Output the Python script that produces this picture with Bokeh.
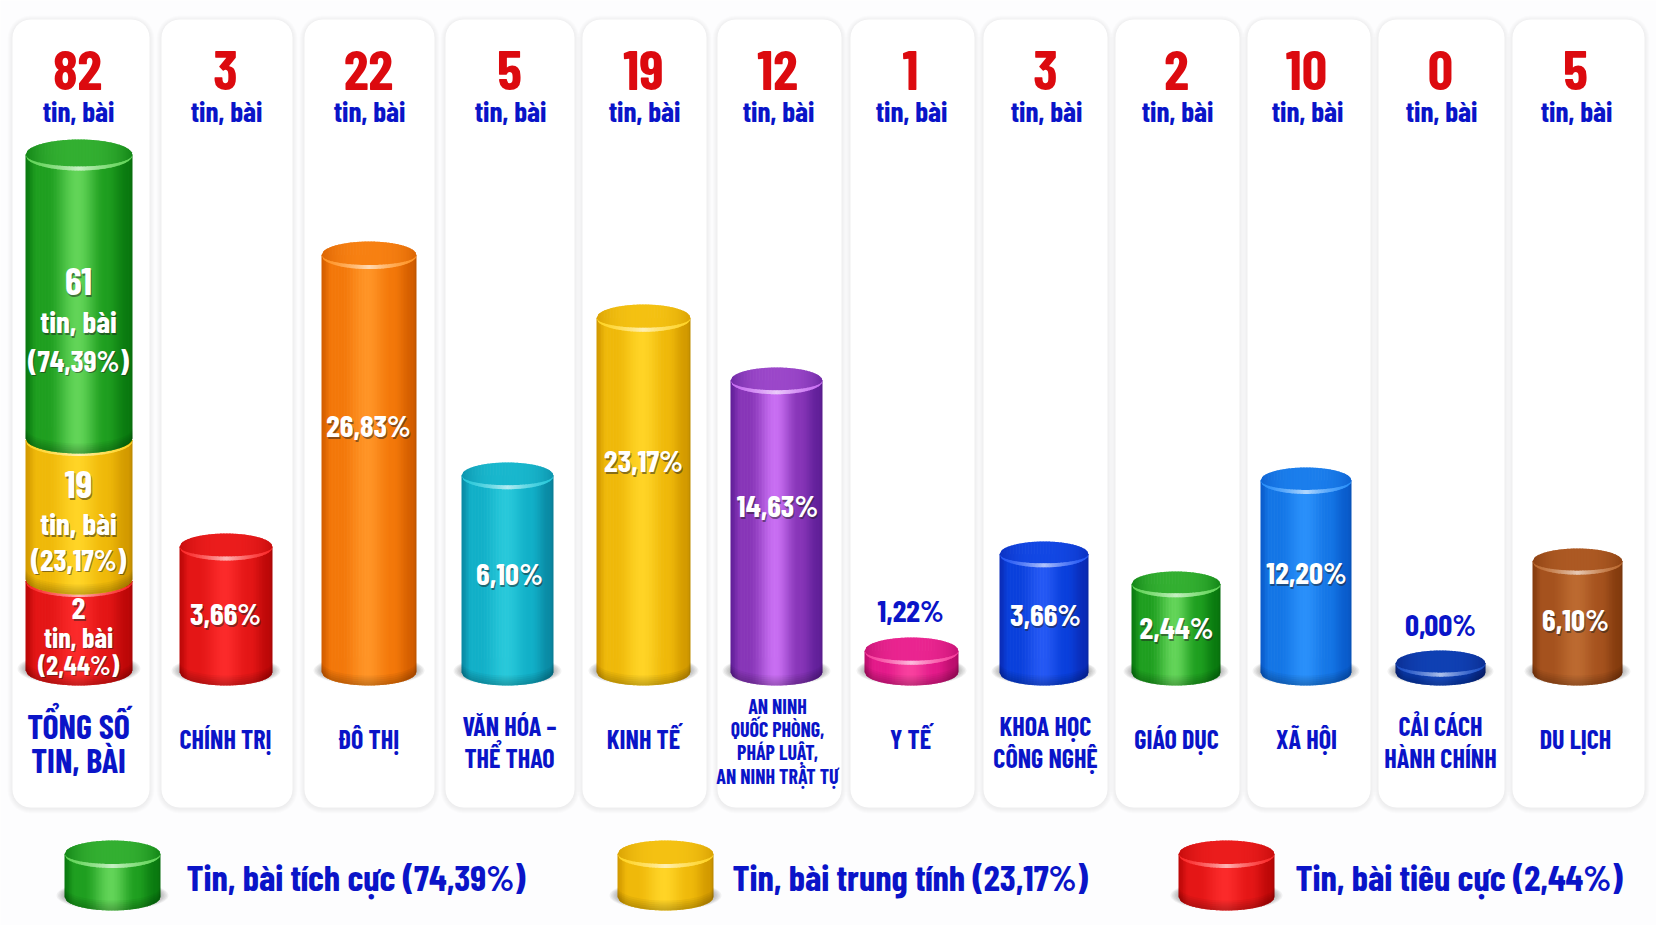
import numpy as np
from bokeh.plotting import figure
from bokeh.models import Range1d
from bokeh.core.properties import value
from bokeh.embed import file_html
from bokeh.resources import INLINE

# ---------- values ----------
categories = [["TỔNG SỐ", "TIN, BÀI"], ["CHÍNH TRỊ"], ["ĐÔ THỊ"], ["VĂN HÓA –", "THỂ THAO"], ["KINH TẾ"],
              ["AN NINH", "QUỐC PHÒNG,", "PHÁP LUẬT,", "AN NINH TRẬT TỰ"], ["Y TẾ"], ["KHOA HỌC", "CÔNG NGHỆ"],
              ["GIÁO DỤC"], ["XÃ HỘI"], ["CẢI CÁCH", "HÀNH CHÍNH"], ["DU LỊCH"]]
counts = ["82", "3", "22", "5", "19", "12", "1", "3", "2", "10", "0", "5"]
percents = [None, "3,66%", "26,83%", "6,10%", "23,17%", "14,63%", "1,22%", "3,66%", "2,44%", "12,20%", "0,00%", "6,10%"]
unit = "tin, bài"
# drawn height of every cylinder (hidden y scale)
drawn_heights = [546, 152, 444, 223, 381, 318, 48, 144, 114, 218, 35, 137]
# first column, stacked from the bottom: negative, neutral, positive
stack_heights = [91, 141, 314]
stack_lines = [["2", "tin, bài", "(2,44%)"], ["19", "tin, bài", "(23,17%)"], ["61", "tin, bài", "(74,39%)"]]
legend_labels = ["Tin, bài tích cực (74,39%)", "Tin, bài trung tính (23,17%)", "Tin, bài tiêu cực (2,44%)"]

# ---------- layout (page pixels) ----------
card_x = [(12, 149), (161, 292), (304, 434), (445, 574), (582, 706), (717, 841), (850, 974), (983, 1107),
          (1115, 1239), (1247, 1370), (1378, 1504), (1512, 1644)]
card_top, card_bottom = 19, 807
bar_x = [(25, 132), (179, 272), (321, 416), (461, 553), (596, 690), (730, 822), (864, 958), (999, 1088),
         (1131, 1220), (1260, 1351), (1395, 1485), (1532, 1622)]
text_cx = [78, 225, 368, 509, 643, 777, 910, 1045, 1176, 1306, 1440, 1575]
label_y = [None, 612, 424, 572, 459, 504, 609, 613, 626, 571, 623, 618]
BASE = 685
PAL = {
    "green": ("#0a7a10", "#1f9f20", "#62d458"), "red": ("#bd0808", "#e41616", "#fb2a2a"),
    "gold": ("#d39a00", "#efb90a", "#ffd426"), "orange": ("#d45e00", "#f3780a", "#ff9426"),
    "cyan": ("#0a8aa4", "#12b0c8", "#28c8da"), "purple": ("#62209a", "#8836b8", "#c86ef2"),
    "pink": ("#bc0f6e", "#e41a8a", "#f8409e"), "blue": ("#0a2cb8", "#0a40dc", "#2458f4"),
    "azure": ("#0a5ccc", "#1476e6", "#2a90fa"), "navy": ("#0a2888", "#0a3aac", "#1a4ec4"),
    "brown": ("#853c0e", "#a5521e", "#bc6a30"),
}
bar_pal = [None, "red", "orange", "cyan", "gold", "purple", "pink", "blue", "green", "azure", "navy", "brown"]


def hex2rgb(c):
    return np.array([int(c[i:i + 2], 16) for i in (1, 3, 5)], float)


def mix(a, b, t):
    c = hex2rgb(a) * (1 - t) + hex2rgb(b) * t
    return "#%02x%02x%02x" % tuple(int(round(v)) for v in c)


def shade(pal, u):
    d, m, l = pal
    xs = [-1, -0.78, -0.6, -0.03, 0.5, 0.92, 1]
    cs = [d, m, m, l, m, d, mix(d, "#000000", 0.1)]
    for i in range(6):
        if u <= xs[i + 1]:
            t = (u - xs[i]) / (xs[i + 1] - xs[i])
            t = t * t * (3 - 2 * t)
            return mix(cs[i], cs[i + 1], t)
    return cs[-1]


p = figure(width=1656, height=925, x_range=Range1d(0, 1656), y_range=Range1d(BASE - 925, BASE),
           output_backend="svg", toolbar_location=None, min_border=0)
p.axis.visible = False
p.grid.visible = False
p.outline_line_color = None
p.background_fill_color = "#fdfdfe"
p.border_fill_color = "#fdfdfe"


def rounded(x0, x1, y0, y1, r):
    t = np.linspace(0, np.pi / 2, 8)
    xs = np.concatenate([x1 - r + r * np.cos(t), x0 + r - r * np.sin(t), x0 + r - r * np.cos(t), x1 - r + r * np.sin(t)])
    ys = np.concatenate([y1 - r + r * np.sin(t), y1 - r + r * np.cos(t), y0 + r - r * np.sin(t), y0 + r - r * np.cos(t)])
    return xs, ys


# cards
for (a, b) in card_x:
    y0, y1 = BASE - card_bottom, BASE - card_top
    for k in (5, 4, 3, 2, 1):
        xs, ys = rounded(a - k, b + k, y0 - k - 1, y1 + k - 1, 18 + k)
        p.patch(xs, ys, fill_color="#000000", fill_alpha=0.012, line_color=None)
    xs, ys = rounded(a, b, y0, y1, 18)
    p.patch(xs, ys, fill_color="#ffffff", line_color=None)


def cylinder(x0, x1, base, h, pal, cap=True, ground=True, ry=None):
    cx, rx = (x0 + x1) / 2, (x1 - x0) / 2
    ry = ry if ry else rx * 0.285
    if ground:
        for k in range(6):
            p.ellipse(cx, base + ry + 1.5, width=2 * (rx + 8 - 1.5 * k), height=2 * (ry + 1.5 - 0.4 * k),
                      fill_color="#000000", fill_alpha=0.05, line_color=None)
    n = int(2 * rx / 1.5)
    edges = np.linspace(-1, 1, n + 1)
    arc = lambda u: ry * np.sqrt(np.clip(1 - u * u, 0, 1))
    yc_b, yc_t = base + ry, base + h - ry
    # body
    xss, yss, cols = [], [], []
    for a, b in zip(edges[:-1], edges[1:]):
        r = min(b + 0.015, 1)
        xss.append([cx + rx * a, cx + rx * r, cx + rx * r, cx + rx * a])
        yss.append([yc_b - arc(a), yc_b - arc(r), yc_t, yc_t])
        cols.append(shade(pal, (a + b) / 2))
    p.patches(xss, yss, fill_color=cols, line_color=None)
    # darker band at the foot
    us = np.linspace(-1, 1, 41)
    for k in range(1, 6):
        xs = np.concatenate([cx + rx * us, cx + rx * us[::-1]])
        ys = np.concatenate([yc_b - arc(us), (yc_b - arc(us) + k * 2.0)[::-1]])
        p.patch(xs, ys, fill_color="#000000", fill_alpha=0.045, line_color=None)
    if cap:
        capmid = mix(pal[1], pal[2], 0.3)
        xss, yss, cols = [], [], []
        for a, b in zip(edges[:-1], edges[1:]):
            r = min(b + 0.015, 1)
            xss.append([cx + rx * a, cx + rx * r, cx + rx * r, cx + rx * a])
            yss.append([yc_t - arc(a), yc_t - arc(r), yc_t + arc(r), yc_t + arc(a)])
            u = (a + b) / 2
            cols.append(mix(capmid, pal[0], min(1, abs(u) ** 3 * 0.8)))
        p.patches(xss, yss, fill_color=cols, line_color=None)
        # bright rim along the front edge
        xss, yss, cols = [], [], []
        for a, b in zip(edges[:-1], edges[1:]):
            r = min(b + 0.015, 1)
            ta, tb = 3.5 * np.sqrt(1 - a * a), 3.5 * np.sqrt(1 - r * r)
            xss.append([cx + rx * a, cx + rx * r, cx + rx * r, cx + rx * a])
            yss.append([yc_t - arc(a) - 0.5, yc_t - arc(r) - 0.5, yc_t - arc(r) + tb, yc_t - arc(a) + ta])
            cols.append(mix(pal[2], "#ffffff", 0.65 * (1 - abs((a + b) / 2)) ** 1.5))
        p.patches(xss, yss, fill_color=cols, line_color=None)


# stacked first column: bottom segment first, upper ones overlap it
b0, b1 = bar_x[0]
stack_pals = [PAL["red"], PAL["gold"], PAL["green"]]
ry0 = (b1 - b0) / 2 * 0.285
bases = np.cumsum([0] + stack_heights[:-1])
for i, (hh, pal) in enumerate(zip(stack_heights, stack_pals)):
    top_extra = 2 * ry0 - 2 if i < 2 else 0
    cylinder(b0, b1, bases[i], hh + top_extra, pal, ground=(i == 0))

# other cylinders
for (a, b), h, key in zip(bar_x[1:], drawn_heights[1:], bar_pal[1:]):
    cylinder(a, b, 0, h, PAL[key])

# legend cylinders
leg_x = [(64, 160), (617, 713), (1178, 1274)]
leg_pal = ["green", "gold", "red"]
leg_text_x = [186, 732, 1295]
for (a, b), key in zip(leg_x, leg_pal):
    cylinder(a, b, BASE - 910, 70, PAL[key], ry=13.5)

FONT = value("Barlow Condensed")


def text(x, y, s, size, color, shadow=None, align="center"):
    if shadow:
        p.text([x + 1], [BASE - y - 1.5], text=[s], text_font=FONT, text_font_style="bold",
               text_font_size=f"{size}px", text_color=shadow, text_alpha=0.5, text_align=align, text_baseline="middle")
    p.text([x], [BASE - y], text=[s], text_font=FONT, text_font_style="bold", text_font_size=f"{size}px",
           text_color=color, text_align=align, text_baseline="middle")


BLUE, RED = "#0a14c8", "#dc0a0f"
for i, cx in enumerate(text_cx):
    text(cx if i else 77, 70, counts[i], 56, RED)
    text(cx + 1 if i else 78, 110, unit, 29, BLUE)
    lines = categories[i]
    if i == 0:
        sz = 34
        ys = [725, 759]
    elif len(lines) == 4:
        ys, sz = [705, 728, 751, 775], 20
    elif len(lines) == 2:
        ys, sz = [725, 757], 26
    else:
        ys, sz = [738], 26
    for yy, s in zip(ys, lines):
        text(cx, yy, s, sz, BLUE)
    if percents[i]:
        outside = i in (6, 10)
        text(cx, label_y[i], percents[i], 31, BLUE if outside else "#ffffff", None if outside else "#202020")

# labels inside the stack
stack_ys = [[608, 636, 663], [484, 522, 558], [281, 320, 359]]
stack_sz = [[31, 28, 27], [38, 31, 30], [38, 31, 30]]
for ls, ys, szs in zip(stack_lines, stack_ys, stack_sz):
    for s, yy, sz in zip(ls, ys, szs):
        text(78, yy, s, sz, "#ffffff", "#202020")

for x, s in zip(leg_text_x, legend_labels):
    text(x, 875, s, 36.5, BLUE, align="left")

open("out.html", "w").write(file_html(p, INLINE))
